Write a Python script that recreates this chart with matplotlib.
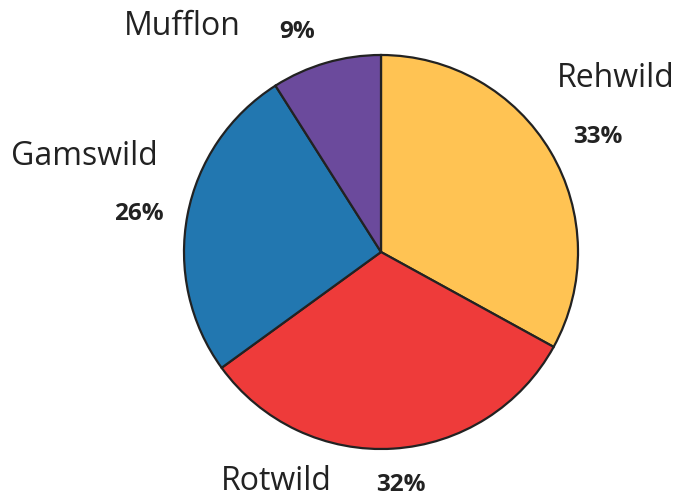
import matplotlib.pyplot as plt

# data
categories = ['Rehwild', 'Rotwild', 'Gamswild', 'Mufflon']
shares = [33, 32, 26, 9]
colors = ['#FFC353', '#EE3B3A', '#2277B0', '#6B4A9C']

W, H = 677, 497
fig = plt.figure(figsize=(W / 100, H / 100), dpi=100)
ax = fig.add_axes([0, 0, 1, 1])

ax.pie(shares, colors=colors, startangle=90, counterclock=False,
       center=(381, H - 252), radius=197, frame=True,
       wedgeprops=dict(edgecolor='#222222', linewidth=1.6))
ax.set_xlim(0, W)
ax.set_ylim(0, H)
ax.set_aspect('equal')
ax.axis('off')

# label placement (pixel coords: x centre, baseline from top)
name_pos = {'Rehwild': (616, 87), 'Rotwild': (276, 490),
            'Gamswild': (84, 165), 'Mufflon': (182, 35)}
pct_pos = {'Rehwild': (598, 143), 'Rotwild': (401, 491),
           'Gamswild': (139, 220), 'Mufflon': (297, 38)}

for name, val in zip(categories, shares):
    x, y = name_pos[name]
    ax.text(x, H - y, name, ha='center', va='baseline', fontsize=23,
            family='Open Sans', color='#222222')
    x, y = pct_pos[name]
    ax.text(x, H - y, '%d%%' % val, ha='center', va='baseline', fontsize=17.5,
            family='Open Sans', fontweight='bold', color='#222222')

fig.savefig('out.png', dpi=100)
